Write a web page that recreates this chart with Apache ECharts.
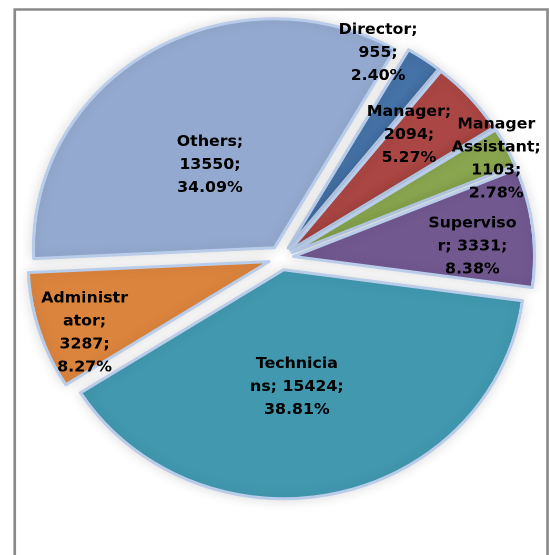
<!DOCTYPE html>
<html><head><meta charset="utf-8">
<script src="https://cdn.jsdelivr.net/npm/echarts@6/dist/echarts.min.js"></script>
<style>
html,body{margin:0;padding:0;background:#fff;overflow:hidden;width:550px;height:555px}
#chart{position:absolute;left:0;top:0;height:555px;transform-origin:0 0}
</style></head><body><div id="chart"></div>
<script>
// ---- data ----
const categories = ['Director', 'Manager', 'Manager Assistant', 'Supervisor', 'Technicians', 'Administrator', 'Others'];
const values = [955, 2094, 1103, 3331, 15424, 3287, 13550];
const colors = ['#4572A7', '#AA4643', '#89A54E', '#71588F', '#4198AF', '#DB843D', '#94A9CF'];
// label text as wrapped in the original ({v} = value, {p} = percent)
const labelTemplates = [
  'Director;\n{v};\n{p}%',
  'Manager;\n{v};\n{p}%',
  'Manager\nAssistant;\n{v};\n{p}%',
  'Superviso\nr; {v};\n{p}%',
  'Technicia\nns; {v};\n{p}%',
  'Administr\nator;\n{v};\n{p}%',
  'Others;\n{v};\n{p}%'
];
// label placement relative to the pie: [fraction of radius, angle shift from slice middle (deg)]
const labelPolar = [[0.982, -10.1], [0.755, -3.4], [0.992, 1.6], [0.796, 3.8], [0.567, 5.7], [0.879, -4.3], [0.502, -4.6]];

// ---- layout ----
const SX = 1.052;                // horizontal stretch of the original picture
const W = 550 / SX;
const CX = 281 / SX, CY = 258, R = 229, START = 30, EXPLODE = 12;
const FONT_SIZE = 15;

const dom = document.getElementById('chart');
dom.style.width = W + 'px';
dom.style.transform = 'scaleX(' + SX + ')';

const total = values.reduce((a, b) => a + b, 0);
let cum = 0;
const mids = values.map(v => { const m = START + (cum + v / 2) / total * 360; cum += v; return m; });

const labelText = i => labelTemplates[i]
  .replace('{v}', values[i])
  .replace('{p}', (values[i] / total * 100).toFixed(2));

const sliceStyle = {
  borderColor: '#B9CDEB', borderWidth: 3,
  shadowBlur: 12, shadowColor: 'rgba(0,0,0,0.13)'
};
const hiddenStyle = { color: 'rgba(0,0,0,0)', borderWidth: 0, shadowBlur: 0 };

// one pie per slice so every slice can be pulled out along its own middle angle
const series = values.map((v, k) => {
  const a = mids[k] * Math.PI / 180;
  return {
    type: 'pie',
    center: [CX + EXPLODE * Math.sin(a), CY - EXPLODE * Math.cos(a)],
    radius: R,
    startAngle: 90 - START,
    clockwise: true,
    silent: true,
    avoidLabelOverlap: false,
    emphasis: { disabled: true },
    label: {
      show: true, position: 'outside', alignTo: 'none',
      fontFamily: 'DejaVu Sans', fontWeight: 'bold', fontSize: FONT_SIZE,
      lineHeight: 23, color: '#000', align: 'center',
      formatter: p => labelText(p.dataIndex)
    },
    labelLine: { show: false },
    labelLayout: function (p) {
      const i = p.dataIndex;
      const ang = (mids[i] + labelPolar[i][1]) * Math.PI / 180;
      const d = labelPolar[i][0] * R;
      return { x: CX + d * Math.sin(ang), y: CY - d * Math.cos(ang), align: 'center', verticalAlign: 'middle' };
    },
    data: categories.map((n, i) => i === k
      ? { name: n, value: values[i], itemStyle: Object.assign({ color: colors[i] }, sliceStyle) }
      : { name: n, value: values[i], itemStyle: hiddenStyle, label: { show: false } })
  };
});

const chart = echarts.init(dom, null, { renderer: 'canvas', devicePixelRatio: 2 });
chart.setOption({
  animation: false,
  backgroundColor: '#ffffff',
  graphic: [{
    type: 'rect', silent: true, z: 100,
    shape: { x: 14.7 / SX, y: 9.5, width: (547.5 - 14.7) / SX, height: 700 },
    style: { fill: 'none', stroke: '#8a8a8a', lineWidth: 2.5 }
  }],
  series: series
});
</script></body></html>
